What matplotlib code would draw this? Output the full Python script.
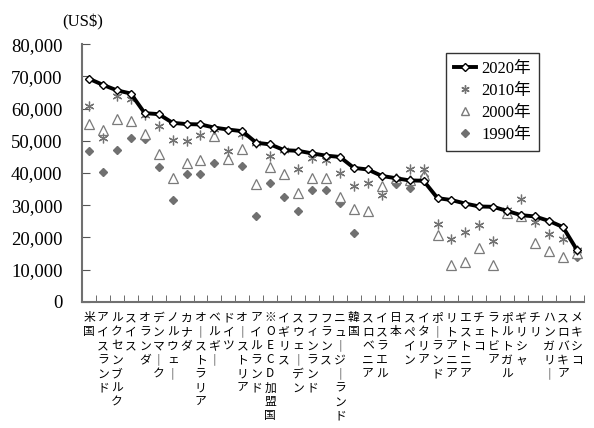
import numpy as np
import matplotlib
matplotlib.use("Agg")
import matplotlib.pyplot as plt
from matplotlib.lines import Line2D

plt.rcParams['font.family'] = ['Liberation Serif', 'Noto Sans CJK JP']

countries = ['米国', 'アイスランド', 'ルクセンブルク', 'スイス', 'オランダ', 'デンマーク',
             'ノルウェー', 'カナダ', 'オーストラリア', 'ベルギー', 'ドイツ', 'オーストリア',
             'アイルランド', '※OECD加盟国', 'イギリス', 'スウェーデン', 'フィンランド', 'フランス',
             'ニュージーランド', '韓国', 'スロベニア', 'イスラエル', '日本', 'スペイン',
             'イタリア', 'ポーランド', 'リトアニア', 'エストニア', 'チェコ', 'ラトビア',
             'ポルトガル', 'ギリシャ', 'チリ', 'ハンガリー', 'スロバキア', 'メキシコ']

nan = np.nan
wage_2020 = [69300, 67400, 65700, 64700, 58600, 58300, 55600, 55200, 55100, 54100, 53500, 53000,
             49400, 48900, 47100, 46900, 46100, 45400, 45000, 41600, 41100, 39100, 38400, 37700,
             37600, 32200, 31600, 30500, 29600, 29500, 28200, 26900, 26500, 25100, 23200, 16100]
wage_2010 = [60800, 50900, 63900, 63000, 57900, 54700, 50200, 49800, 51700, 53800, 46900, 52100,
             49400, 45300, 47100, 41200, 44700, 44000, 40100, 35900, 36800, 33100, 38100, 41100,
             41100, 24100, 19400, 21600, 24000, 19000, 28500, 31800, 24900, 21200, 19400, 16000]
wage_2000 = [55100, 53500, 56700, 56200, 52100, 45900, 38300, 43000, 43900, 51500, 44400, 47500,
             36500, 42000, 39700, 33900, 38300, 38300, 32600, 28900, 28300, 35900, 38300, 37800,
             39500, 20700, 11400, 12200, 16600, 11300, 27600, 26700, 18200, 15800, 13900, 15100]
wage_1990 = [46900, 40300, 47300, 50900, 50600, 41900, 31700, 39700, 39600, 43200, nan, 42100,
             26500, 36800, 32400, 28300, 34800, 34600, 30700, 21400, nan, nan, 36600, 35200,
             39100, nan, nan, nan, nan, nan, nan, nan, nan, nan, nan, 13900]


def vertical(name):
    return '\n'.join('｜' if c == 'ー' else c for c in name)


fig = plt.figure(figsize=(5.94, 4.28), dpi=100)
ax = fig.add_axes([0.138, 0.295, 0.845, 0.6015])

x = np.arange(len(countries))
ax.plot(x, wage_1990, linestyle='none', marker='D', ms=4.3, color='#707070', zorder=2)
ax.plot(x, wage_2000, linestyle='none', marker='^', ms=7, mfc='white', mec='#7a7a7a',
        mew=0.9, zorder=3)
ax.plot(x, wage_2010, linestyle='none', marker=(6, 2, 0), ms=7, color='#737373', mew=0.9,
        zorder=4)
ax.plot(x, wage_2020, color='black', lw=2.8, marker='D', ms=4.5, mfc='white', mec='black',
        mew=1.0, zorder=5)

ax.set_xlim(-0.5, len(countries) - 0.5)
ax.set_ylim(0, 80000)
ax.set_yticks(np.arange(0, 80001, 10000))
ax.set_yticklabels([f'{v:,}' for v in range(0, 80001, 10000)], fontsize=13.5)

ax.set_xticks(x)
ax.set_xticklabels([vertical(c) for c in countries], fontsize=8.5, linespacing=1.1,
                   va='top', family=['Noto Sans CJK JP'])
ax.set_xticks(np.arange(-0.5, len(countries), 1.0), minor=True)
ax.tick_params(axis='x', which='major', length=0, pad=7)
ax.tick_params(axis='x', which='minor', length=5, direction='in', color='#555555')
ax.tick_params(axis='y', length=6, direction='in', pad=14, color='#555555')

for side in ['top', 'right']:
    ax.spines[side].set_visible(False)
for side in ['left', 'bottom']:
    ax.spines[side].set_color('#707070')
    ax.spines[side].set_linewidth(1.5)

fig.text(62 / 594, 1 - 22 / 428, '(US$)', fontsize=12, va='center', ha='left')

handles = [
    Line2D([], [], color='black', lw=2.8, marker='D', ms=4.5, mfc='white', mec='black'),
    Line2D([], [], linestyle='none', marker=(6, 2, 0), ms=6, color='#737373'),
    Line2D([], [], linestyle='none', marker='^', ms=6, mfc='white', mec='#7a7a7a'),
    Line2D([], [], linestyle='none', marker='D', ms=4, color='#707070'),
]
leg = fig.legend(handles, ['2020年', '2010年', '2000年', '1990年'], loc='upper left',
                 bbox_to_anchor=(446 / 594, 1 - 53 / 428), bbox_transform=fig.transFigure,
                 fontsize=12, frameon=True, fancybox=False, borderaxespad=0,
                 handlelength=1.3, handletextpad=0.3, labelspacing=0.35, borderpad=0.5)
leg.get_frame().set_edgecolor('black')
leg.get_frame().set_linewidth(1.0)

fig.savefig('out.png', dpi=100)
